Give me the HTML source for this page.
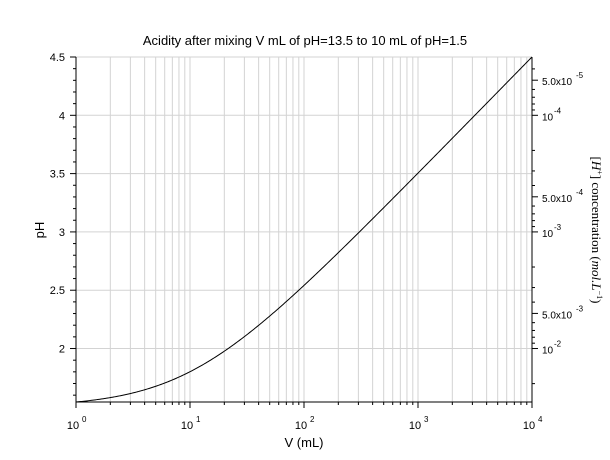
<!DOCTYPE html>
<html><head><meta charset="utf-8"><style>
body{margin:0;background:#fff;width:610px;height:460px;overflow:hidden}
svg{display:block;font-family:"Liberation Sans",sans-serif}
</style></head><body>
<svg id="s" width="610" height="460" viewBox="0 0 610 460"></svg>
<script>
const L=76,R=532,T=57,B=402,ymin=1.5+Math.log10(1.1),ymax=4.5;
const X=v=>L+(R-L)*Math.log10(v)/4;
const Y=p=>B-(B-T)*(p-ymin)/(ymax-ymin);
let s='';
// vertical grid
for(let d=0;d<4;d++)for(let k=1;k<=9;k++){const x=X(k*10**d);if(k>1||d>0)s+=`<line x1="${x}" y1="${T}" x2="${x}" y2="${B}" stroke="#d3d3d3" stroke-width="1"/>`;}
for(let p=2;p<=4.5;p+=0.5)s+=`<line x1="${L}" y1="${Y(p)}" x2="${R}" y2="${Y(p)}" stroke="#d3d3d3"/>`;
// curve
let pts=[];for(let i=0;i<=400;i++){const v=10**(i/100);pts.push(`${X(v).toFixed(2)},${Y(1.5+Math.log10(1+v/10)).toFixed(2)}`);}
s+=`<polyline points="${pts.join(' ')}" fill="none" stroke="#000" stroke-width="1"/>`;
// axes
s+=`<line x1="${L}" y1="${T}" x2="${L}" y2="${B}" stroke="#000"/><line x1="${L}" y1="${B}" x2="${R}" y2="${B}" stroke="#000"/><line x1="${R}" y1="${T}" x2="${R}" y2="${B}" stroke="#000"/>`;
// y ticks
for(let i=16;i<=45;i++){const p=i/10;if(p<ymin)continue;const y=Y(p);const maj=i%5==0;s+=`<line x1="${L-(maj?6:3)}" y1="${y}" x2="${L}" y2="${y}" stroke="#000"/>`;if(maj)s+=`<text x="${L-11}" y="${y+4}" font-size="11" text-anchor="end">${+p.toFixed(1)}</text>`;}
// x ticks
for(let d=0;d<=4;d++){const x=X(10**d);s+=`<line x1="${x}" y1="${B}" x2="${x}" y2="${B+6}" stroke="#000"/><text x="${x-3}" y="${B+27}" font-size="11" text-anchor="middle">10</text><text x="${x+6}" y="${B+20}" font-size="8">${d}</text>`;if(d<4)for(let k=2;k<=9;k++){const xx=X(k*10**d);s+=`<line x1="${xx}" y1="${B}" x2="${xx}" y2="${B+3}" stroke="#000"/>`;}}
// right ticks
for(let e=5;e>=1;e--){for(let k=1;k<=9;k++){const h=k*10**(-e);const p=-Math.log10(h);if(p<ymin||p>ymax)continue;const y=Y(p);const maj=(k==1||k==5);s+=`<line x1="${R}" y1="${y}" x2="${R+(maj?6:3)}" y2="${y}" stroke="#000"/>`;
if(k==1)s+=`<text x="${R+10}" y="${y+5}" font-size="10">10</text><text x="${R+22}" y="${y-2}" font-size="8">-${e}</text>`;
if(k==5)s+=`<text x="${R+10}" y="${y+5}" font-size="10">5.0x10</text><text x="${R+44}" y="${y-2}" font-size="8">-${e}</text>`;}}
// labels
s+=`<text x="305" y="45" font-size="13" text-anchor="middle">Acidity after mixing V mL of pH=13.5 to 10 mL of pH=1.5</text>`;
s+=`<text x="304" y="447" font-size="13" text-anchor="middle">V (mL)</text>`;
s+=`<text transform="translate(44,230) rotate(-90)" font-size="13" text-anchor="middle">pH</text>`;
s+=`<text transform="translate(592,230) rotate(90)" font-size="13" text-anchor="middle" font-family="Liberation Serif,serif">[<tspan font-style="italic">H</tspan><tspan font-size="8" dy="-5">+</tspan><tspan dy="5">] concentration (</tspan><tspan font-style="italic">mol.L</tspan><tspan font-size="8" dy="-5">−1</tspan><tspan dy="5">)</tspan></text>`;
document.getElementById('s').innerHTML=s;
</script>
</body></html>
